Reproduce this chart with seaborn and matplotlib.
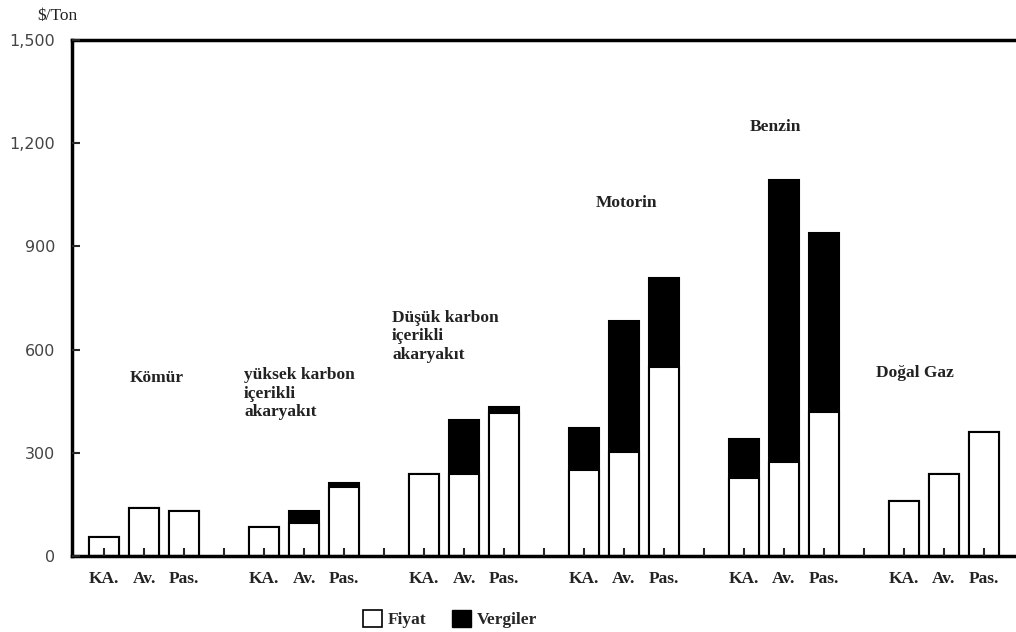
import numpy as np
import pandas as pd
import matplotlib
matplotlib.use("Agg")
import matplotlib.pyplot as plt
import seaborn as sns
from matplotlib.patches import Patch

# data
groups = ["Kömür", "yüksek karbon\niçerikli\nakaryakıt", "Düşük karbon\niçerikli\nakaryakıt",
          "Motorin", "Benzin", "Doğal Gaz"]
sectors = ["KA.", "Av.", "Pas."]
fiyat = [55, 139, 130,
         84, 96, 200,
         238, 238, 415,
         250, 302, 548,
         226, 273, 418,
         160, 238, 360]
vergiler = [0, 0, 0,
            0, 34, 12,
            0, 157, 17,
            122, 380, 261,
            114, 821, 522,
            0, 0, 0]
yticks = [0, 300, 600, 900, 1200, 1500]
ytick_labels = ["0", "300", "600", "900", "1,200", "1,500"]

# each group takes 4 slots: 3 bars and one gap
rows = []
for g, name in enumerate(groups):
    for s, sec in enumerate(sectors):
        i = g * 3 + s
        rows.append({"pos": g * 4 + s, "sector": sec, "group": name,
                     "fiyat": fiyat[i], "toplam": fiyat[i] + vergiler[i]})
df = pd.DataFrame(rows)

sns.set_style("white")
plt.rcParams["font.family"] = ["Liberation Serif", "DejaVu Serif"]

fig = plt.figure(figsize=(10.16, 6.32), dpi=100)
ax = fig.add_axes([0.0709, 0.1203, 0.9291, 0.8164])

sns.barplot(data=df, x="pos", y="toplam", native_scale=True, color="black",
            saturation=1, width=0.75, errorbar=None, edgecolor="black",
            linewidth=1.5, ax=ax)
sns.barplot(data=df, x="pos", y="fiyat", native_scale=True, color="white",
            saturation=1, width=0.75, errorbar=None, edgecolor="black",
            linewidth=1.5, ax=ax)

ax.set_xlim(-0.8, 22.8)
ax.set_ylim(0, 1500)

slots = list(range(0, 23))
slot_labels = []
for p in slots:
    slot_labels.append(sectors[p % 4] if p % 4 < 3 else "")
ax.set_xticks(slots)
ax.set_xticklabels(slot_labels, fontsize=12.5, fontweight="bold", color="#222222")
ax.set_yticks(yticks)
ax.set_yticklabels(ytick_labels, fontsize=11.5, color="#444444",
                   family=["DejaVu Sans"])
ax.tick_params(axis="x", bottom=True, direction="in", length=6, width=1.5, pad=11)
ax.tick_params(axis="y", left=True, direction="in", length=6, width=1.5, pad=12)
ax.set_axisbelow(False)
ax.set_xlabel("")
ax.set_ylabel("")

for side in ["left", "bottom", "top"]:
    ax.spines[side].set_linewidth(2.5)
    ax.spines[side].set_color("black")
ax.spines["right"].set_visible(False)

# group labels
label_spots = [(0.65, 517, "center"), (3.5, 548, "top"), (7.2, 715, "top"),
               (12.3, 1026, "center"), (16.15, 1247, "center"), (19.3, 532, "center")]
for name, (x, y, va) in zip(groups, label_spots):
    ax.text(x, y, name, fontsize=12.5, fontweight="bold", color="#222222",
            ha="left", va=va, linespacing=1.2)

fig.text(0.037, 0.975, "$/Ton", fontsize=12.5, va="center", ha="left", color="#222222")

handles = [Patch(facecolor="white", edgecolor="black", linewidth=1.2, label="Fiyat"),
           Patch(facecolor="black", edgecolor="black", label="Vergiler")]
fig.legend(handles=handles, loc="center", bbox_to_anchor=(0.443, 0.02), ncol=2,
           frameon=False, handlelength=1.1, handleheight=1.1, handletextpad=0.3,
           columnspacing=1.5, prop={"weight": "bold", "size": 12.5})

fig.savefig("out.png", dpi=100)
